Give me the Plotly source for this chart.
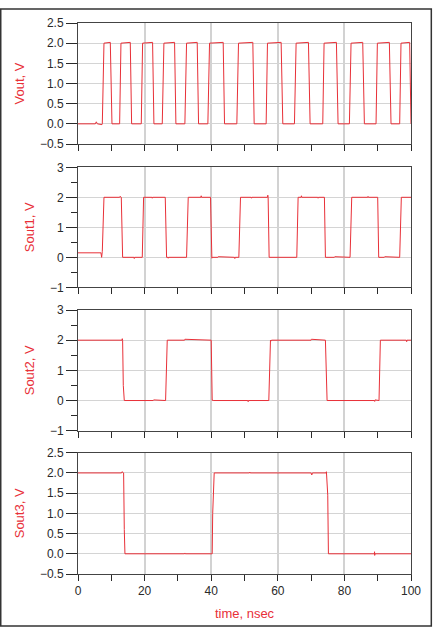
import plotly.graph_objects as go
from plotly.subplots import make_subplots

# ---- data (time in nsec, voltages in V) ----
vout_t = [0, 5.2, 5.5, 5.8, 7.2, 7.3, 7.8, 9.7, 10.2, 12.5, 12.9, 15.7, 16.1, 19.0, 19.4,
          22.4, 22.8, 25.3, 25.8, 29.0, 29.4, 32.1, 32.6, 35.8, 36.2, 39.0, 39.5, 43.6, 44.0,
          47.7, 48.2, 52.5, 52.9, 56.5, 56.9, 61.0, 61.5, 65.0, 65.5, 69.2, 69.7, 73.5, 73.9,
          77.6, 78.1, 81.5, 82.0, 85.5, 86.0, 89.5, 89.9, 93.5, 94.0, 96.6, 97.0, 99.6, 100.0]
vout_v = [0, 0, 0.05, 0, -0.02, 0, 2.0, 2.02, 0, 0, 2.0, 2.02, 0, 0, 2.0,
          2.02, 0, 0, 2.0, 2.02, 0, 0, 2.0, 2.02, 0, 0, 2.0, 2.02, 0,
          0, 2.0, 2.02, 0, 0, 2.0, 2.02, 0, 0, 2.0, 2.02, 0, 0, 2.0,
          2.02, 0, 0, 2.0, 2.02, 0, 0, 2.0, 2.02, 0, 0, 2.0, 2.02, 0.0]

sout1_t = [0, 6.9, 7.1, 7.3, 7.8, 12.5, 12.6, 13.0, 13.4, 16.8, 16.9, 17.0, 19.3, 19.7,
           22.2, 22.3, 22.4, 26.2, 26.6, 27.0, 27.1, 27.2, 32.6, 33.1, 36.9, 37.0, 37.1,
           39.8, 40.1, 40.2, 40.3, 42.0, 42.1, 47.0, 47.1, 47.2, 48.3, 48.8, 52.0, 52.1,
           52.2, 56.9, 57.0, 57.1, 57.4, 62.0, 62.1, 65.7, 66.1, 67.0, 67.1, 67.2, 72.0,
           72.1, 72.2, 74.0, 74.3, 77.0, 77.1, 81.7, 82.2, 87.0, 87.1, 87.2, 90.0, 90.3,
           92.0, 92.1, 96.6, 97.1, 100.0]
sout1_v = [0.15, 0.15, 0.0, 0.2, 2.0, 2.0, 2.03, 2.0, 0.0, 0.0, -0.04, 0.0, 0.0, 2.0,
           2.0, 1.97, 2.0, 2.0, 0.0, 0.0, -0.03, 0.0, 0.0, 2.0, 2.0, 2.05, 2.0,
           2.0, 0.0, -0.03, 0.0, 0.0, 0.02, 0.0, -0.04, 0.0, 0.0, 2.0, 2.0, 1.97,
           2.0, 2.0, 2.07, 2.0, 0.0, 0.0, 0.02, 0.0, 2.0, 2.0, 2.05, 2.0, 2.0,
           1.97, 2.0, 2.0, 0.0, 0.0, 0.02, 0.0, 2.0, 2.0, 2.03, 2.0, 2.0, 0.0,
           0.0, 0.02, 0.0, 2.0, 2.0]

sout2_t = [0, 7.3, 7.4, 7.5, 13.2, 13.3, 13.4, 13.6, 13.9, 22.6, 22.7, 26.3, 26.8, 32.0,
           32.1, 40.0, 40.3, 40.5, 40.6, 51.0, 51.1, 51.2, 57.3, 57.8, 58.0, 58.1, 70.0,
           70.1, 74.3, 74.8, 89.0, 89.1, 89.2, 90.4, 90.8, 98.6, 98.7, 98.8, 100.0]
sout2_v = [2.0, 2.0, 1.98, 2.0, 2.0, 2.05, 2.0, 0.5, 0.0, 0.0, 0.02, 0.0, 2.0, 2.0,
           2.03, 2.0, 0.0, 0.02, 0.0, 0.0, -0.04, 0.0, 0.0, 2.0, 1.97, 2.0, 2.0,
           2.03, 2.0, 0.0, 0.0, -0.03, 0.02, 0.0, 2.0, 2.0, 1.95, 2.0, 2.0]

sout3_t = [0, 13.1, 13.2, 13.7, 13.9, 14.1, 32.0, 32.1, 32.2, 40.3, 40.45, 40.9, 51.5,
           51.6, 51.7, 70.0, 70.2, 70.4, 74.5, 74.6, 75.0, 75.2, 89.0, 89.05, 89.1,
           89.2, 100.0]
sout3_v = [2.0, 2.0, 2.03, 2.0, 0.6, 0.0, 0.0, 0.02, 0.0, 0.0, 1.0, 2.0, 2.0,
           2.02, 2.0, 2.0, 1.95, 2.0, 2.0, 2.03, 1.45, 0.0, 0.0, 0.05, -0.04,
           0.0, 0.0]

y_titles = ["Vout, V", "Sout1, V", "Sout2, V", "Sout3, V"]
x_title = "time, nsec"

RED = "rgb(232,48,56)"
TICKC = "#2a2a2a"
GRIDC = "#d4d4d4"
FONT = "Liberation Sans, Arial, sans-serif"

fig = make_subplots(rows=4, cols=1, shared_xaxes=False)
series = [(vout_t, vout_v), (sout1_t, sout1_v), (sout2_t, sout2_v), (sout3_t, sout3_v)]
for i, (t, v) in enumerate(series):
    fig.add_trace(go.Scatter(x=t, y=v, mode="lines", line=dict(color=RED, width=1),
                             showlegend=False), row=i + 1, col=1)

domains = [[0.7804, 1.0], [0.5203, 0.7381], [0.2601, 0.4791], [0.0, 0.2201]]
for i in range(4):
    xa = "xaxis" if i == 0 else f"xaxis{i+1}"
    ya = "yaxis" if i == 0 else f"yaxis{i+1}"
    fig.layout[xa].update(
        domain=[0, 1], range=[0, 100], dtick=20, tick0=0,
        ticks="outside", ticklen=6, tickcolor=TICKC, tickwidth=1,
        minor=dict(dtick=10, ticks="outside", ticklen=6, tickcolor=TICKC, showgrid=False),
        showgrid=True, gridcolor="#d2d2d2", gridwidth=1.5,
        showline=True, linecolor="#444444", linewidth=1, mirror=True,
        zeroline=False, showticklabels=(i == 3),
        tickfont=dict(family=FONT, size=12, color=TICKC),
    )
    if i in (0, 3):
        yrange, dt, minor = [-0.5, 2.5], 0.5, None
        fmt = ".1f"
    else:
        yrange, dt, minor = [-1, 3], 1, dict(dtick=0.5, ticks="outside", ticklen=6,
                                             tickcolor=TICKC, showgrid=False)
        fmt = "d"
    yopts = dict(
        domain=domains[i], range=yrange, dtick=dt, tick0=0, tickformat=fmt,
        ticks="outside", ticklen=11, tickcolor=TICKC, tickwidth=1,
        showgrid=True, gridcolor=GRIDC, gridwidth=1,
        showline=True, linecolor="#444444", linewidth=1, mirror=True,
        zeroline=False,
        tickfont=dict(family=FONT, size=12, color=TICKC),
        title=dict(text=y_titles[i], font=dict(family=FONT, size=13, color=RED), standoff=12),
    )
    if minor:
        yopts["minor"] = minor
    fig.layout[ya].update(**yopts)

fig.layout["xaxis4"].update(title=dict(text=x_title, font=dict(family=FONT, size=13, color=RED),
                                       standoff=11))

fig.add_shape(type="rect", xref="paper", yref="paper",
              x0=-0.232, x1=1.061, y0=-0.0944, y1=1.0254,
              line=dict(color="#333333", width=1.5), layer="above")

fig.update_layout(
    width=433, height=631,
    margin=dict(l=78, r=22, t=23, b=57, autoexpand=False),
    paper_bgcolor="white", plot_bgcolor="white",
    font=dict(family=FONT),
)

fig.write_html("out.html")
